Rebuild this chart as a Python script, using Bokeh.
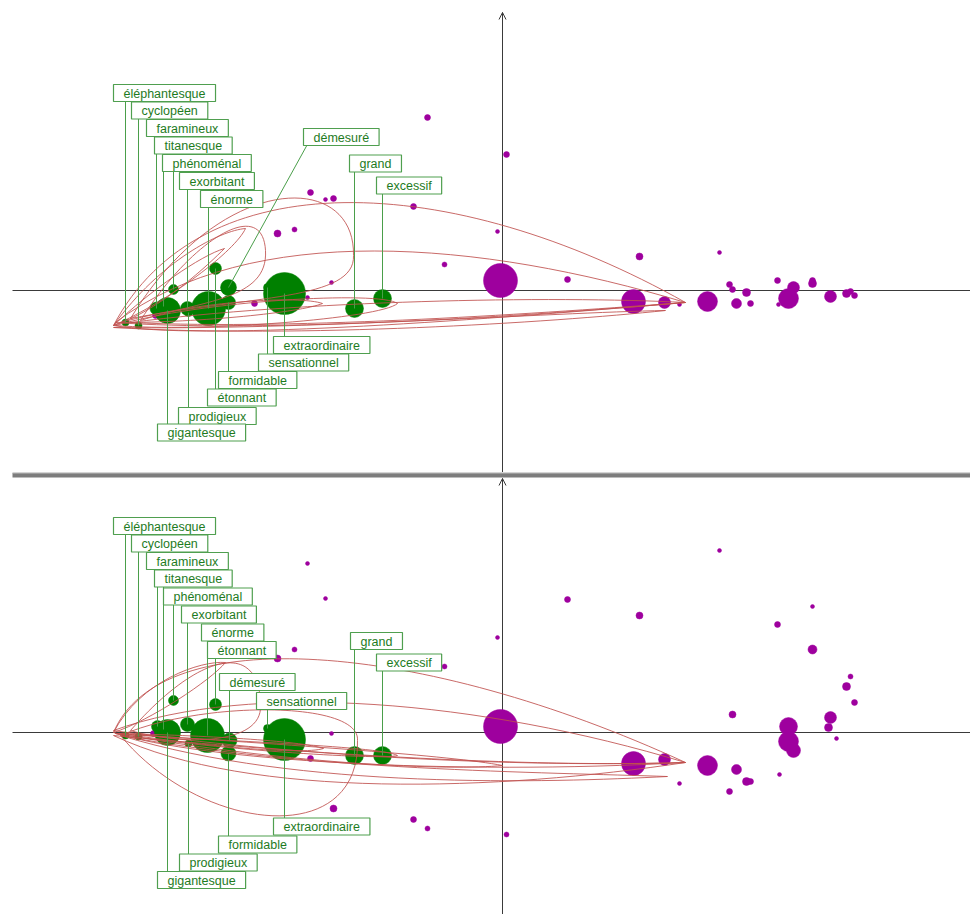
import numpy as np
from bokeh.plotting import figure
from bokeh.layouts import column
from bokeh.models import Range1d, Arrow, OpenHead, ColumnDataSource
from bokeh.core.properties import value
from bokeh.embed import file_html
from bokeh.resources import INLINE

# ---------------- data ----------------
words = ["éléphantesque", "cyclopéen", "faramineux", "titanesque", "phénoménal",
         "exorbitant", "énorme", "démesuré", "grand", "excessif", "extraordinaire",
         "sensationnel", "formidable", "étonnant", "prodigieux", "gigantesque"]

# panel 1 (top)
w1_x = [-377, -364, -346, -339, -329, -315, -294, -274, -148, -120, -218, -235, -274, -287, -314, -335]
w1_y = [-32, -35, -18, -16, 1, -18, -18, 3, -18, -8, -3, 3, -12, 22, -22, -20]
w1_s = [7, 7, 13, 9, 10, 14, 34, 16, 18, 18, 42, 8, 14, 12, 8, 26]
lab1_x = [-389, -371, -356, -348, -340, -323, -302, -199, -153, -126, -229, -244, -284, -295, -324, -345]
lab1_y = [197.5, 180, 162.5, 145, 127.5, 109.5, 91.5, 153.5, 127, 105, -54.5, -72, -89.5, -107, -125.5, -142]

c1_x = [-192, -177, -169, -89, -225, -208, -171, -195, -248, -347, -75, 4, -5, -58, -2, 65, 137, 131, 162,
        177, 205, 217, 227, 230, 244, 234, 248, 275, 291, 286, 276, 310, 310, 328, 344, 348, 352]
c1_y = [98, 91, 92, 84, 57, 61, 8, -7, -13, -25, 173, 136, 59, 26, 10, 11, 34, -11, -12,
        -14, -11, 38, 6, 1, -2, -13, -13, 10, 3, -8, -14, 10, 7, -6, -3, -1, -5]
c1_s = [6, 4, 6, 6, 7, 5, 4, 4, 6, 6, 6, 6, 4, 5, 34, 6, 7, 24, 12,
        4, 20, 4, 6, 6, 8, 10, 6, 6, 12, 20, 4, 6, 8, 12, 8, 6, 6]

# panel 2 (bottom)
w2_x = [-377, -364, -345, -339, -329, -315, -295, -273, -148, -120, -218, -235, -274, -287, -314, -335]
w2_y = [-3, -4, 6, 3, 32, 8, -3, -8, -23, -23, -7, 4, -21, 28, -11, 0]
w2_s = [7, 7, 12, 9, 10, 14, 34, 15, 18, 18, 42, 8, 15, 12, 7, 26]
lab2_x = [-389, -371, -356, -348, -339, -321, -301, -283, -152, -126, -229, -246, -284, -295, -323, -345]
lab2_y = [206.5, 189, 171.5, 154, 136, 118, 100, 50.5, 91.5, 70, -94, 31.5, -112, 82.5, -130, -147.5]

c2_x = [217, 65, 137, -5, 310, 275, 310, 348, 344, 352, 230, 328, 326, 334, -2, 286, 286, 291, 131, 162,
        205, 234, 177, 244, 248, 227, 277, 4, -195, -177, -248, -208, -225, -58, -171, -192, -169, -89, -75, -349]
c2_y = [182, 133, 117, 95, 126, 108, 83, 56, 46, 30, 18, 15, 5, -6, 6, 6, -9, -18, -31, -27,
        -33, -37, -51, -49, -49, -59, -42, -102, 169, 134, 95, 83, 74, 66, -1, -26, -76, -87, -96, -1]
c2_s = [4, 6, 7, 4, 4, 6, 9, 5, 8, 6, 7, 12, 8, 4, 34, 18, 20, 14, 24, 12,
        20, 10, 4, 8, 6, 6, 4, 5, 4, 4, 5, 5, 7, 5, 4, 6, 7, 6, 5, 6]

# association curves (cubic Bézier loops), panel 1
k1_x0 = [-389, 183, -372, -149, -362, -237, -387, 183, -389, -278, -387, -105, -382, -180, -372, 183, -389, 163, -389, -257]
k1_y0 = [-35, -12, -28, 35, -30, 40, -32, -12, -35, 42, -35, -13, -32, -13, -32, -12, -37, -20, -35, 62]
k1_x1 = [183, -389, -149, -372, -237, -362, 183, -387, -278, -389, -105, -387, -180, -382, 183, -372, 163, -389, -257, -389]
k1_y1 = [-12, -35, 35, -28, 40, -30, -12, -32, 42, -35, -13, -35, -13, -32, -12, -32, -20, -37, 62, -35]
k1_cx0 = [-302, -52, -282, -147, -312, -234, -252, -2, -352, -292, -302, -122, -302, -202, -202, 48, -202, 48, -342, -267]
k1_cy0 = [130, -32, 120, -10, 50, -10, 70, -28, 0, 28, -10, -28, -10, -22, -10, -22, -40, -32, 30, 40]
k1_cx1 = [-52, -302, -147, -252, -240, -302, -22, -252, -302, -342, -122, -302, -202, -302, 48, -202, 48, -202, -282, -332]
k1_cy1 = [120, -50, 120, -5, 95, -10, 50, -42, 35, -20, 0, -42, -5, -32, -5, -40, -22, -48, 60, -10]

# association curves, panel 2
k2_x0 = [-389, 183, -382, -145, -372, -242, -389, 183, -387, -105, -387, 0, -382, 165, -389, 183, -382, -179, -389, -277]
k2_y0 = [0, -30, -3, -8, 2, 27, 2, -30, -1, -23, -1, -33, -3, -44, -3, -30, -1, -16, 0, 70]
k2_x1 = [183, -389, -145, -382, -242, -372, 183, -389, -105, -387, 0, -387, 165, -382, 183, -389, -179, -382, -277, -389]
k2_y1 = [-30, 0, -8, -3, 27, 2, -30, 2, -23, -1, -33, -1, -44, -3, -30, -3, -16, -1, 70, 0]
k2_cx0 = [-342, -52, -302, -142, -302, -240, -252, -22, -302, -122, -202, -52, -202, 48, -252, -2, -302, -202, -362, -292]
k2_cy0 = [112, -43, -100, 32, 82, -13, 52, -36, -8, -28, -13, -38, -38, -50, -68, -36, -3, -23, 52, 52]
k2_cx1 = [-82, -302, -142, -302, -242, -322, -22, -252, -122, -302, -52, -202, 48, -202, -2, -252, -202, -302, -302, -352]
k2_cy1 = [92, -28, -118, 32, 92, -13, 32, -18, -13, -16, -23, -33, -40, -58, -58, -16, -8, -13, 72, 12]

# ---------------- styling ----------------
PURPLE = "#9e009e"
GREEN = "#008000"
CURVE = "#c0504d"
LEAD = "#4a9e4a"
LABEL_TXT = "#1e7b1e"
LABEL_BORDER = "#4f9f4f"
AXIS = "#3a3a3a"
FONT = value("Liberation Sans")

X_START, X_END = -502, 468


def panel(height, y_top, w_x, w_y, w_s, lab_x, lab_y, c_x, c_y, c_s,
          kx0, ky0, kx1, ky1, kcx0, kcy0, kcx1, kcy1, arrow_top, separator=False):
    y_bot = y_top - height
    p = figure(width=970, height=height, x_range=Range1d(X_START, X_END),
               y_range=Range1d(y_bot, y_top), output_backend="svg",
               toolbar_location=None, x_axis_type=None, y_axis_type=None,
               min_border=0, min_border_left=0, min_border_right=0,
               min_border_top=0, min_border_bottom=0)
    p.grid.visible = False
    p.outline_line_color = None
    p.background_fill_color = "white"
    p.border_fill_color = "white"

    # axes (drawn underneath everything)
    p.segment(x0=[X_START + 12], y0=[0], x1=[X_END], y1=[0], line_color=AXIS, line_width=1)
    p.segment(x0=[0], y0=[y_bot], x1=[0], y1=[arrow_top], line_color=AXIS, line_width=1)
    p.add_layout(Arrow(end=OpenHead(size=7, line_color=AXIS, line_width=1),
                       x_start=0, y_start=arrow_top - 10, x_end=0, y_end=arrow_top,
                       line_color=AXIS, line_width=1, level="underlay"))

    if separator:
        p.quad(left=[X_START + 12], right=[X_END], bottom=[y_top - 5], top=[y_top],
               fill_color="#7d7d7d", line_color=None)
        p.segment(x0=[X_START + 12], y0=[y_top - 0.5], x1=[X_END], y1=[y_top - 0.5],
                  line_color="#bdbdbd", line_width=1)

    # contexts (purple) and words (green)
    p.scatter(x=c_x, y=c_y, size=c_s, fill_color=PURPLE, line_color=PURPLE, line_width=0.5)
    p.scatter(x=w_x, y=w_y, size=w_s, fill_color=GREEN, line_color=GREEN, line_width=0.5)

    # association curves
    p.bezier(x0=kx0, y0=ky0, x1=kx1, y1=ky1, cx0=kcx0, cy0=kcy0, cx1=kcx1, cy1=kcy1,
             line_color=CURVE, line_width=1, line_alpha=0.85)

    # leader lines
    lx = [px if px >= lx0 else lx0 + 8 for px, lx0 in zip(w_x, lab_x)]
    p.segment(x0=lx, y0=lab_y, x1=w_x, y1=w_y, line_color=LEAD, line_width=1)

    # labels
    src = ColumnDataSource(dict(x=lab_x, y=lab_y, t=words))
    p.text(x="x", y="y", text="t", source=src, text_font=FONT, text_font_size="12.5px",
           text_color=LABEL_TXT, text_align="left", text_baseline="middle",
           background_fill_color="white", border_line_color=LABEL_BORDER,
           border_line_width=1.2, padding=dict(left=10, right=10, top=2, bottom=1))
    return p


top = panel(472, 290, w1_x, w1_y, w1_s, lab1_x, lab1_y, c1_x, c1_y, c1_s,
            k1_x0, k1_y0, k1_x1, k1_y1, k1_cx0, k1_cy0, k1_cx1, k1_cy1, arrow_top=278)
bottom = panel(442, 260, w2_x, w2_y, w2_s, lab2_x, lab2_y, c2_x, c2_y, c2_s,
               k2_x0, k2_y0, k2_x1, k2_y1, k2_cx0, k2_cy0, k2_cx1, k2_cy1, arrow_top=254,
               separator=True)

layout = column(top, bottom, spacing=0)
open("out.html", "w").write(file_html(layout, INLINE))
